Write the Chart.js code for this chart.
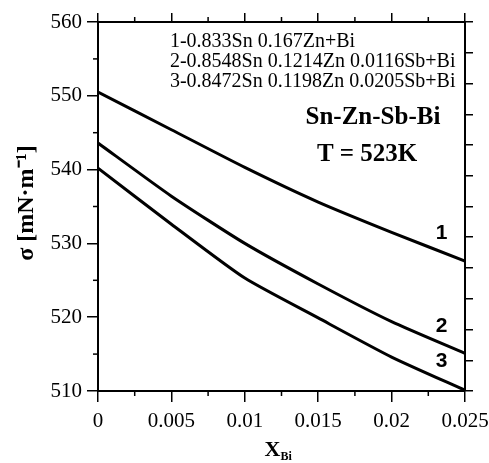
<!DOCTYPE html>
<html>
<head>
<meta charset="utf-8">
<script src="https://cdn.jsdelivr.net/npm/chart.js@4/dist/chart.umd.min.js"></script>
<style>
  html, body { margin: 0; padding: 0; background: #fff; }
  #wrap { width: 489px; height: 463px; }
</style>
</head>
<body>
<div id="wrap"><canvas id="sigmaChart"></canvas></div>
<script>
// mole fraction of Bi
const xBi = [0, 0.005, 0.01, 0.015, 0.02, 0.025];

// surface tension, mN/m, at T = 523K
const sigma1 = [550.5, 545.4, 540.3, 535.6, 531.5, 527.6];
const sigma2 = [543.6, 536.4, 530.0, 524.5, 519.4, 515.1];
const sigma3 = [540.2, 532.6, 525.3, 519.9, 514.6, 510.1];

const curveNames = ['1', '2', '3'];
const legendLines = [
    '1-0.833Sn 0.167Zn+Bi',
    '2-0.8548Sn 0.1214Zn 0.0116Sb+Bi',
    '3-0.8472Sn 0.1198Zn 0.0205Sb+Bi'
];

const serif = '"Liberation Serif", "Times New Roman", serif';
const sans = '"Liberation Sans", Arial, sans-serif';

function toPoints(ys) {
    return xBi.map((x, i) => ({ x: x, y: ys[i] }));
}

function serie(ys) {
    return {
        data: toPoints(ys),
        borderColor: '#000',
        borderWidth: 3,
        pointRadius: 0,
        tension: 0.2,
        fill: false
    };
}

// small ticks between the numbered ones + all the texts
const extras = {
    id: 'extras',
    afterDraw(chart) {
        const c = chart.ctx;
        const sx = chart.scales.x;
        const sy = chart.scales.y;
        const area = chart.chartArea;
        c.save();
        c.strokeStyle = '#000';
        c.lineWidth = 1.5;

        // minor ticks
        const xt = sx.ticks.map(t => t.value);
        for (let i = 0; i < xt.length - 1; i++) {
            const px = sx.getPixelForValue((xt[i] + xt[i + 1]) / 2);
            c.beginPath();
            c.moveTo(px, area.bottom); c.lineTo(px, area.bottom + 5);
            c.moveTo(px, area.top); c.lineTo(px, area.top - 5);
            c.stroke();
        }
        const yt = sy.ticks.map(t => t.value);
        for (let i = 0; i < yt.length - 1; i++) {
            const py = sy.getPixelForValue((yt[i] + yt[i + 1]) / 2);
            c.beginPath();
            c.moveTo(area.left, py); c.lineTo(area.left - 5, py);
            c.stroke();
        }

        c.fillStyle = '#000';
        c.textBaseline = 'middle';

        // composition list
        c.textAlign = 'left';
        c.font = '20px ' + serif;
        const lx = sx.getPixelForValue(0.0049);
        legendLines.forEach((s, i) => {
            c.fillText(s, lx, sy.getPixelForValue(557.3 - i * 2.7));
        });

        // system and temperature
        c.textAlign = 'center';
        c.font = 'bold 25px ' + serif;
        c.fillText('Sn-Zn-Sb-Bi', sx.getPixelForValue(0.01873), sy.getPixelForValue(547.0));
        c.fillText('T = 523K', sx.getPixelForValue(0.01833), sy.getPixelForValue(542.0));

        // curve numbers
        c.font = 'bold 21px ' + sans;
        const labelY = [531.4, 518.8, 514.1];
        curveNames.forEach((n, i) => {
            c.fillText(n, sx.getPixelForValue(0.0234), sy.getPixelForValue(labelY[i]));
        });

        // x title with subscript
        c.font = 'bold 22px ' + serif;
        c.textAlign = 'left';
        const xw = c.measureText('X').width;
        const tx = (area.left + area.right) / 2 - 17;
        c.fillText('X', tx, 450);
        c.font = 'bold 12px ' + serif;
        c.fillText('Bi', tx + xw, 457);

        // y title
        c.translate(27, 203);
        c.rotate(-Math.PI / 2);
        c.textAlign = 'center';
        c.font = 'bold 24px ' + serif;
        c.fillText('\u03C3 [mN\u00B7m\u207B\u00B9]', 0, 0);
        c.restore();
    }
};

const axisGrid = (len) => ({
    drawOnChartArea: false,
    color: '#000',
    lineWidth: 1.5,
    tickLength: len
});
const axisBorder = { color: '#000', width: 2 };

// keep the plot box where the original has it
function noSidePad(s) {
    s.paddingLeft = 0;
    s.paddingRight = 0;
}

const ctx = document.getElementById('sigmaChart').getContext('2d');
const sigmaChart = new Chart(ctx, {
    type: 'line',
    data: {
        datasets: [serie(sigma1), serie(sigma2), serie(sigma3)]
    },
    options: {
        responsive: true,
        maintainAspectRatio: false,
        animation: false,
        layout: { padding: 0 },
        plugins: {
            legend: { display: false },
            tooltip: { enabled: false }
        },
        scales: {
            x: {
                type: 'linear',
                position: 'bottom',
                min: 0,
                max: 0.025,
                grid: axisGrid(11),
                border: axisBorder,
                ticks: {
                    stepSize: 0.005,
                    color: '#000',
                    padding: 7,
                    maxRotation: 0,
                    font: { family: serif, size: 21 },
                    callback: v => String(+v.toFixed(3))
                },
                afterFit: s => { s.height = 72; noSidePad(s); }
            },
            x2: {
                type: 'linear',
                position: 'top',
                min: 0,
                max: 0.025,
                grid: axisGrid(9),
                border: axisBorder,
                ticks: { stepSize: 0.005, display: false },
                afterFit: s => { s.height = 22; noSidePad(s); }
            },
            y: {
                position: 'left',
                min: 510,
                max: 560,
                grid: axisGrid(11),
                border: axisBorder,
                ticks: {
                    stepSize: 10,
                    color: '#000',
                    padding: 5,
                    font: { family: serif, size: 21 }
                },
                afterFit: s => { s.width = 98; }
            },
            y2: {
                position: 'right',
                min: 0,
                max: 12,
                grid: axisGrid(8),
                border: axisBorder,
                ticks: { stepSize: 1, display: false },
                afterFit: s => { s.width = 24; }
            }
        }
    },
    plugins: [extras]
});
</script>
</body>
</html>
